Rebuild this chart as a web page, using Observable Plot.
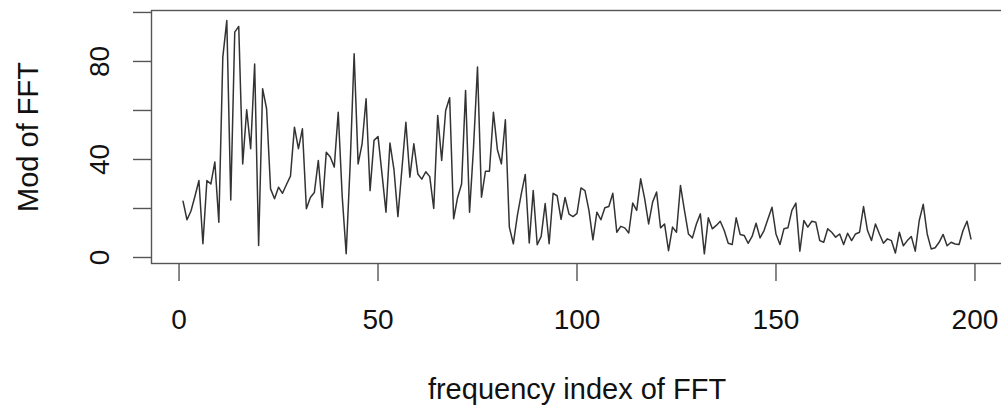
<!DOCTYPE html>
<html>
<head>
<meta charset="utf-8">
<script src="https://cdn.jsdelivr.net/npm/d3@7"></script>
<script src="https://cdn.jsdelivr.net/npm/@observablehq/plot@0.6"></script>
<style>
  html, body { margin: 0; padding: 0; background: #fff; }
  svg { display: block; }
</style>
</head>
<body>
<div id="chart"></div>
<script>
// Modulus of FFT, frequency index 1..199
const modFFT = [
  23, 15.4, 19, 25, 31.4, 5.6, 31.4, 30, 39, 14.4,
  81.8, 96.7, 23.5, 92, 94.3, 38.2, 60.3, 44.4, 79, 4.9,
  68.9, 60.7, 28, 24, 28.7, 26.2, 29.8, 33.2, 53.2, 44.4,
  52.5, 19.9, 24.5, 26.5, 39.6, 20.4, 43, 41, 36.9, 59.3,
  25, 1.5, 38, 83.1, 38.2, 46.4, 64.8, 27.3, 47.8, 49.4,
  34.1, 18.5, 46.7, 36, 16.7, 36, 55.2, 32.8, 46.4, 34.1,
  32, 35, 33, 20, 58, 39.6, 60, 65.2, 15.8, 24.5,
  30, 68.2, 18.5, 45, 77.7, 24.6, 35.2, 35.2, 59.3, 44,
  38.2, 56.2, 12.4, 5.6, 17, 26, 33.9, 5.9, 27.3, 5.2,
  8.6, 22, 5.6, 26.2, 25.2, 15.6, 24.5, 17.7, 16.7, 18,
  28.4, 27.3, 19.2, 7.2, 18.5, 15.4, 20.3, 20.8, 26.2, 10.3,
  12.7, 12.1, 10, 22.2, 19.2, 32.1, 24, 13.7, 22.6, 26.7,
  12.1, 13.7, 2.8, 12.4, 10.3, 29.4, 19.2, 9.6, 8, 13.7,
  17.8, 1.5, 16.2, 11.7, 13.1, 14.8, 11, 5.8, 5.3, 16.2,
  9.4, 9, 5.8, 8.6, 14, 8, 11, 15.8, 20.5, 9.6,
  5.3, 11.7, 12.1, 19.2, 22.2, 2.6, 15.1, 12.4, 14.8, 14.4,
  6.9, 6.2, 11.7, 10.3, 8.3, 9.6, 5.3, 9.9, 6.9, 9.6,
  10.3, 20.8, 11, 6.9, 13.7, 9.6, 5.8, 7.6, 6.9, 1.8,
  10.3, 4.8, 6.9, 8.6, 2.6, 15.1, 21.7, 9.6, 3.5, 4,
  6.2, 9.4, 4.8, 6.2, 5.5, 5.3, 11, 14.8, 7.6
];
const xTicks = [0, 50, 100, 150, 200];
const yTicks = [0, 20, 40, 60, 80, 100];
const yLabelTicks = [0, 40, 80];
const xTitle = "frequency index of FFT";
const yTitle = "Mod of FFT";

const series = modFFT.map((v, i) => ({index: i + 1, value: v}));

const FONT = "'Liberation Sans', Arial, Helvetica, sans-serif";
const AXIS = "#555";

const chart = Plot.plot({
  width: 1001,
  height: 407,
  marginLeft: 151,
  marginRight: -1,
  marginTop: 10,
  marginBottom: 144,
  style: {fontFamily: FONT, background: "#fff", color: "#111", overflow: "visible"},
  x: {domain: [-6.92, 206.92], axis: null},
  y: {domain: [-2.45, 100.8], axis: null},
  marks: [
    Plot.frame({stroke: AXIS, strokeWidth: 1.4}),
    Plot.axisX(xTicks, {
      anchor: "bottom", tickSize: 18, stroke: AXIS, strokeWidth: 1.4,
      tickFormat: null, label: null, text: null
    }),
    Plot.axisY(yTicks, {
      anchor: "left", tickSize: 18, stroke: AXIS, strokeWidth: 1.4,
      tickFormat: null, label: null, text: null
    }),
    Plot.text(xTicks, {
      x: d => d, frameAnchor: "bottom", dy: 65, lineAnchor: "bottom",
      text: d => String(d), fontSize: 28, fill: "#111"
    }),
    Plot.text(yLabelTicks, {
      y: d => d, frameAnchor: "left", dx: -43, rotate: -90,
      textAnchor: "middle", lineAnchor: "bottom",
      text: d => String(d), fontSize: 28, fill: "#111"
    }),
    Plot.text([xTitle], {
      frameAnchor: "bottom", dy: 135, lineAnchor: "bottom",
      text: d => d, fontSize: 29, fill: "#111"
    }),
    Plot.text([yTitle], {
      frameAnchor: "left", dx: -114, rotate: -90,
      textAnchor: "middle", lineAnchor: "bottom",
      text: d => d, fontSize: 29, fill: "#111"
    }),
    Plot.line(series, {x: "index", y: "value", stroke: "#333", strokeWidth: 1.5})
  ]
});

document.getElementById("chart").appendChild(chart);
</script>
</body>
</html>
